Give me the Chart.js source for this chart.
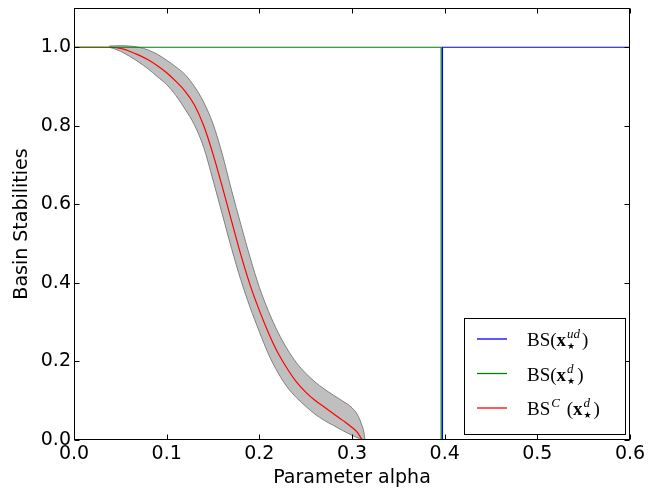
<!DOCTYPE html>
<html>
<head>
<meta charset="utf-8">
<script src="https://cdn.jsdelivr.net/npm/chart.js@4.4.0/dist/chart.umd.min.js"></script>
<style>
  html, body { margin: 0; padding: 0; background: #fff; }
  #wrap { width: 662px; height: 489px; }
</style>
</head>
<body>
<div id="wrap"><canvas id="chart"></canvas></div>
<script>
// tick values
const X_TICKS = [0, 0.1, 0.2, 0.3, 0.4, 0.5, 0.6];
const Y_TICKS = [0, 0.2, 0.4, 0.6, 0.8, 1.0];

// BS(x_ud): jumps from 0 to 1 near alpha = 0.3976
const BLUE_X = [0, 0.3976, 0.3976, 0.6];
const BLUE_Y = [0, 0, 1, 1];

// BS(x_d): drops from 1 to 0 near alpha = 0.3962
const GREEN_X = [0, 0.3962, 0.3962, 0.6];
const GREEN_Y = [1, 1, 0, 0];

// BS^C(x_d) mean curve
const RED_X = [0, 0.039, 0.05, 0.06, 0.07, 0.08, 0.09, 0.10, 0.11, 0.12, 0.13, 0.14, 0.15, 0.16, 0.17, 0.18, 0.19, 0.20, 0.21, 0.22, 0.23, 0.24, 0.25, 0.26, 0.27, 0.28, 0.29, 0.30, 0.306, 0.312, 0.6];
const RED_Y = [1, 1.0, 0.997, 0.990, 0.980, 0.968, 0.953, 0.935, 0.913, 0.888, 0.853, 0.800, 0.728, 0.645, 0.558, 0.472, 0.395, 0.330, 0.272, 0.222, 0.182, 0.148, 0.122, 0.101, 0.084, 0.067, 0.050, 0.032, 0.019, 0.0, 0];

// grey band, upper / lower edge
const UPPER_X = [0.038, 0.05, 0.06, 0.07, 0.08, 0.09, 0.10, 0.11, 0.12, 0.13, 0.14, 0.15, 0.16, 0.17, 0.18, 0.19, 0.20, 0.21, 0.22, 0.23, 0.24, 0.25, 0.26, 0.27, 0.28, 0.29, 0.30, 0.306, 0.310, 0.313, 0.314];
const UPPER_Y = [1.003, 1.004, 1.003, 1.000, 0.993, 0.982, 0.967, 0.950, 0.930, 0.900, 0.860, 0.805, 0.728, 0.636, 0.549, 0.465, 0.389, 0.327, 0.275, 0.232, 0.197, 0.170, 0.148, 0.130, 0.114, 0.099, 0.082, 0.064, 0.042, 0.018, 0.0];
const LOWER_X = [0.038, 0.045, 0.05, 0.06, 0.07, 0.08, 0.09, 0.10, 0.11, 0.12, 0.13, 0.14, 0.15, 0.16, 0.17, 0.18, 0.19, 0.20, 0.21, 0.22, 0.23, 0.24, 0.25, 0.26, 0.27, 0.28, 0.29, 0.30, 0.308, 0.314];
const LOWER_Y = [1.0, 0.995, 0.990, 0.977, 0.962, 0.945, 0.925, 0.905, 0.877, 0.842, 0.802, 0.745, 0.662, 0.575, 0.488, 0.408, 0.338, 0.276, 0.218, 0.172, 0.135, 0.108, 0.086, 0.066, 0.050, 0.037, 0.024, 0.012, 0.004, 0.0];

const LEGEND_COLORS = ['#0000ff', '#008000', '#ff0000'];
const LEGEND_LABELS = [
  [{ t: 'BS(' }, { t: 'x', b: true }, { sup: 'ud', sub: '★' }, { t: ')' }],
  [{ t: 'BS(' }, { t: 'x', b: true }, { sup: 'd', sub: '★' }, { t: ')' }],
  [{ t: 'BS' }, { sup: 'C' }, { t: ' (' }, { t: 'x', b: true }, { sup: 'd', sub: '★' }, { t: ')' }],
];

const pts = (xs, ys) => xs.map((x, i) => ({ x, y: ys[i] }));

Chart.defaults.font.family = 'DejaVu Sans';
Chart.defaults.color = '#000';

const SERIF = "'Liberation Serif', serif";

function drawMath(ctx, x, y, parts) {
  ctx.textBaseline = 'alphabetic';
  ctx.textAlign = 'left';
  parts.forEach(p => {
    if (p.t !== undefined) {
      ctx.font = (p.b ? 'bold ' : '') + '19px ' + SERIF;
      ctx.fillText(p.t, x, y);
      x += ctx.measureText(p.t).width;
    } else {
      let w = 0;
      if (p.sup) {
        ctx.font = 'italic 13px ' + SERIF;
        ctx.fillText(p.sup, x + 1, y - 8);
        w = ctx.measureText(p.sup).width + 1;
      }
      if (p.sub) {
        ctx.font = '9px DejaVu Sans';
        ctx.fillText(p.sub, x + 1, y + 3);
        w = Math.max(w, ctx.measureText(p.sub).width + 1);
      }
      x += w + 2;
    }
  });
}

const frame = {
  id: 'frame',
  afterDatasetsDraw(chart) {
    const { ctx, chartArea: ca, scales } = chart;
    const l = Math.round(ca.left) + 0.5, r = Math.round(ca.right) - 0.5;
    const t = Math.round(ca.top) + 0.5, b = Math.round(ca.bottom) - 0.5;
    ctx.save();
    ctx.strokeStyle = '#000';
    ctx.lineWidth = 1;
    ctx.strokeRect(l, t, r - l, b - t);
    ctx.beginPath();
    X_TICKS.forEach(v => {
      const px = Math.round(scales.x.getPixelForValue(v)) + 0.5;
      ctx.moveTo(px, b); ctx.lineTo(px, b - 5);
      ctx.moveTo(px, t); ctx.lineTo(px, t + 5);
    });
    Y_TICKS.forEach(v => {
      const py = Math.round(scales.y.getPixelForValue(v)) + 0.5;
      ctx.moveTo(l, py); ctx.lineTo(l + 5, py);
      ctx.moveTo(r, py); ctx.lineTo(r - 5, py);
    });
    ctx.stroke();
    ctx.restore();
  },
  afterDraw(chart) {
    const { ctx, chartArea: ca } = chart;
    const w = 161, h = 116;
    const x0 = Math.round(ca.right) - 5 - w, y0 = Math.round(ca.bottom) - 6 - h;
    ctx.save();
    ctx.fillStyle = '#fff';
    ctx.fillRect(x0, y0, w, h);
    ctx.strokeStyle = '#000';
    ctx.lineWidth = 1;
    ctx.strokeRect(x0 + 0.5, y0 + 0.5, w, h);
    LEGEND_LABELS.forEach((parts, i) => {
      const cy = y0 + 21 + i * 34.5;
      ctx.strokeStyle = LEGEND_COLORS[i];
      ctx.lineWidth = 1.3;
      ctx.beginPath();
      ctx.moveTo(x0 + 13, cy); ctx.lineTo(x0 + 43, cy);
      ctx.stroke();
      ctx.fillStyle = '#000';
      drawMath(ctx, x0 + 63, cy + 7, parts);
    });
    ctx.restore();
  }
};

const lineDs = (data, color) => ({
  data, borderColor: color, backgroundColor: color, borderWidth: 1.2,
  pointRadius: 0, tension: 0, fill: false,
});
const smooth = { cubicInterpolationMode: 'monotone' };

new Chart(document.getElementById('chart'), {
  type: 'line',
  data: {
    datasets: [
      lineDs(pts(BLUE_X, BLUE_Y), '#0000ff'),
      lineDs(pts(GREEN_X, GREEN_Y), '#008000'),
      { ...lineDs(pts(RED_X, RED_Y), '#ff0000'), ...smooth },
      { ...lineDs(pts(UPPER_X, UPPER_Y), '#808080'), ...smooth, borderWidth: 1 },
      { ...lineDs(pts(LOWER_X, LOWER_Y), '#808080'), ...smooth, borderWidth: 1, fill: '-1', backgroundColor: '#bfbfbf' },
    ]
  },
  options: {
    responsive: true,
    maintainAspectRatio: false,
    animation: false,
    layout: { padding: { left: 11, right: 32, top: 8, bottom: 0 } },
    plugins: { legend: { display: false }, tooltip: { enabled: false } },
    scales: {
      x: {
        type: 'linear', min: 0, max: 0.6,
        afterBuildTicks: s => { s.ticks = X_TICKS.map(value => ({ value })); },
        afterFit: s => { s.height = 49; s.paddingLeft = 0; s.paddingRight = 0; },
        grid: { display: false, drawTicks: false },
        border: { display: false },
        ticks: { font: { size: 19 }, padding: 3, maxRotation: 0, callback: v => v.toFixed(1) },
        title: { display: true, text: 'Parameter alpha', font: { size: 19 }, padding: 0 },
      },
      y: {
        type: 'linear', min: 0, max: 1.1,
        afterBuildTicks: s => { s.ticks = Y_TICKS.map(value => ({ value })); },
        afterFit: s => { s.width = 63; s.paddingTop = 0; s.paddingBottom = 0; },
        grid: { display: false, drawTicks: false },
        border: { display: false },
        ticks: { font: { size: 19 }, padding: 3, callback: v => v.toFixed(1) },
        title: { display: true, text: 'Basin Stabilities', font: { size: 19 }, padding: 0 },
      },
    },
  },
  plugins: [frame],
});
</script>
</body>
</html>
